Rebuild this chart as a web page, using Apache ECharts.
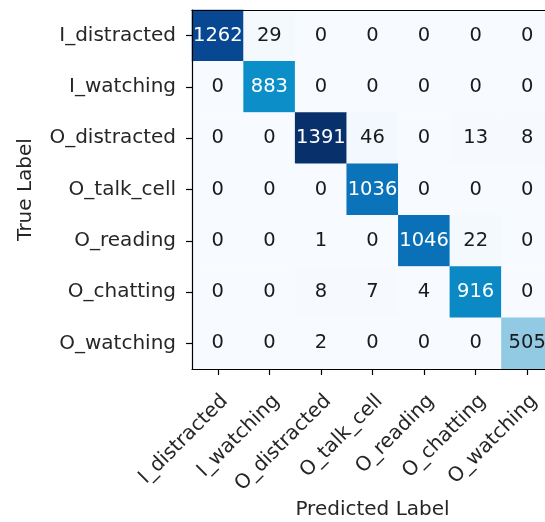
<!DOCTYPE html>
<html>
<head>
<meta charset="utf-8">
<script src="https://cdn.jsdelivr.net/npm/echarts@6/dist/echarts.min.js"></script>
<style>html,body{margin:0;padding:0;background:#fff;}#c{width:545px;height:522px;}</style>
</head>
<body>
<div id="c"></div>
<script>
const categories = ['I_distracted','I_watching','O_distracted','O_talk_cell','O_reading','O_chatting','O_watching'];
const row0 = [1262, 29, 0, 0, 0, 0, 0];
const row1 = [0, 883, 0, 0, 0, 0, 0];
const row2 = [0, 0, 1391, 46, 0, 13, 8];
const row3 = [0, 0, 0, 1036, 0, 0, 0];
const row4 = [0, 0, 1, 0, 1046, 22, 0];
const row5 = [0, 0, 8, 7, 4, 916, 0];
const row6 = [0, 0, 2, 0, 0, 0, 505];
const matrix = [row0,row1,row2,row3,row4,row5,row6];
const xName = 'Predicted Label';
const yName = 'True Label';

let maxV = 0;
matrix.forEach(r => r.forEach(v => { if (v > maxV) maxV = v; }));
const thresh = maxV / 2;
const data = [];
matrix.forEach((r, i) => r.forEach((v, j) => {
  data.push({value: [j, i, v], label: {color: v > thresh ? '#ffffff' : '#1a1a1a'}});
}));

const FONT = 'DejaVu Sans';
const chart = echarts.init(document.getElementById('c'), null, {renderer: 'canvas'});
const frameAxis = {
  axisLine: {show: true, lineStyle: {color: '#000', width: 1.2}},
  axisTick: {show: false}, axisLabel: {show: false}, splitLine: {show: false}, z: 10
};
chart.setOption({
  animation: false,
  backgroundColor: '#ffffff',
  grid: {left: 192, top: 10, width: 361, height: 359, containLabel: false, outerBoundsMode: 'none'},
  xAxis: [{
    type: 'category', data: categories, position: 'bottom',
    axisLine: {show: true, lineStyle: {color: '#000', width: 1.2}},
    axisTick: {show: true, alignWithLabel: true, length: 6, lineStyle: {color: '#000', width: 1.2}},
    axisLabel: {rotate: 45, fontSize: 20, fontFamily: FONT, color: '#262626', margin: 22, interval: 0,
                verticalAlign: 'top', lineHeight: 20},
    splitLine: {show: false}, splitArea: {show: false},
    name: xName, nameLocation: 'middle', nameGap: 131, nameMoveOverlap: false,
    nameTextStyle: {fontSize: 20, fontFamily: FONT, color: '#262626'},
    z: 10
  }, Object.assign({type: 'category', data: categories, position: 'top'}, frameAxis)],
  yAxis: [{
    type: 'category', data: categories, inverse: true, position: 'left',
    axisLine: {show: true, lineStyle: {color: '#000', width: 1.2}},
    axisTick: {show: true, alignWithLabel: true, length: 6, lineStyle: {color: '#000', width: 1.2}},
    axisLabel: {fontSize: 20, fontFamily: FONT, color: '#262626', margin: 16, interval: 0},
    splitLine: {show: false}, splitArea: {show: false},
    name: yName, nameLocation: 'middle', nameGap: 156, nameMoveOverlap: false,
    nameTextStyle: {fontSize: 20, fontFamily: FONT, color: '#262626'},
    z: 10
  }, Object.assign({type: 'category', data: categories, inverse: true, position: 'right'}, frameAxis)],
  visualMap: {
    show: false, min: 0, max: maxV, dimension: 2, calculable: false,
    inRange: {color: ['#f7fbff','#e3eef9','#c6def0','#8cc8e3','#4cb0dc','#0c92ca','#0a72b8','#084f9f','#08306b']}
  },
  series: [{
    type: 'heatmap', xAxisIndex: 0, yAxisIndex: 0, data: data,
    label: {show: true, fontSize: 19.5, fontFamily: FONT, formatter: p => String(p.value[2])},
    itemStyle: {borderWidth: 0},
    emphasis: {disabled: true}
  }]
});
</script>
</body>
</html>
